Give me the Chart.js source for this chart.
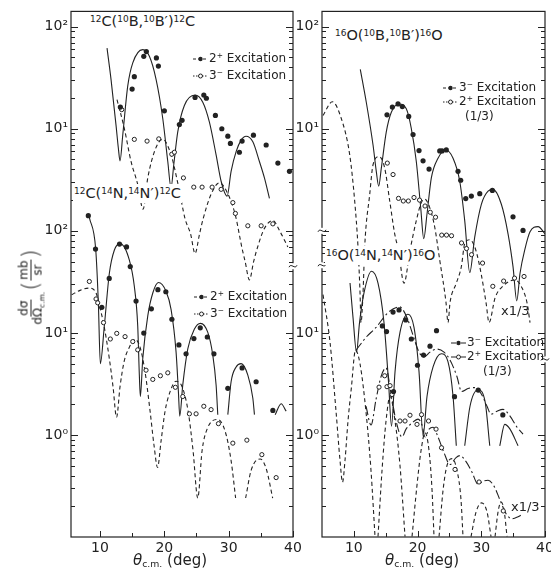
<!DOCTYPE html>
<html lang="en">
<head>
<meta charset="UTF-8">
<title>Inelastic excitation cross sections</title>
<script src="https://cdn.jsdelivr.net/npm/chart.js"></script>
<style>
  html, body { margin: 0; padding: 0; background: #fff; }
  body { width: 551px; height: 575px; position: relative; overflow: hidden;
         font-family: "DejaVu Sans", sans-serif; color: #222; }
  canvas { position: absolute; top: 0; }
  #leftChart { left: 0; }
  #rightChart { left: 290px; }
  .t { position: absolute; white-space: nowrap; z-index: 2; }
  .t sup { font-size: 0.62em; vertical-align: 0.5em; line-height: 0; }
  .rx { font-size: 14.5px; line-height: 19px; background: #fff; padding: 0 1px; }
  .leg { font-size: 12px; line-height: 14px; }
  .leg svg { vertical-align: -1px; margin-right: 1px; }
  .small { font-size: 13px; line-height: 14px; }
  .xt { font-size: 15px; line-height: 18px; transform: translateX(-50%); }
  .xt sub { font-size: 0.62em; vertical-align: -0.25em; line-height: 0; }
  #ytitle { left: 31px; top: 287px; transform: translate(-50%, -50%) rotate(-90deg);
            font-size: 12px; display: flex; align-items: center; gap: 1px; }
  .frac { display: inline-flex; flex-direction: column; align-items: center; line-height: 13px; }
  .frac span:first-child { border-bottom: 1px solid #222; padding: 0 1px; }
  .frac sub { font-size: 0.62em; line-height: 0; }
  .par { font-size: 23px; line-height: 23px; font-weight: 200; }
</style>
</head>
<body>

<canvas id="leftChart" width="320" height="575"></canvas>
<canvas id="rightChart" width="271" height="575"></canvas>

<!-- reaction labels -->
<div class="t rx" style="left:89px;top:12px"><sup>12</sup>C(<sup>10</sup>B,<sup>10</sup>B′)<sup>12</sup>C</div>
<div class="t rx" style="left:73px;top:184px"><sup>12</sup>C(<sup>14</sup>N,<sup>14</sup>N′)<sup>12</sup>C</div>
<div class="t rx" style="left:334px;top:26px"><sup>16</sup>O(<sup>10</sup>B,<sup>10</sup>B′)<sup>16</sup>O</div>
<div class="t rx" style="left:325px;top:246px"><sup>16</sup>O(<sup>14</sup>N,<sup>14</sup>N′)<sup>16</sup>O</div>

<!-- legends -->
<div class="t leg" style="left:193px;top:51px"><svg width="15" height="8"><line x1="0" y1="4" x2="15" y2="4" stroke="#222" stroke-dasharray="3 2"/><circle cx="7.5" cy="4" r="2.2" fill="#222"/></svg>2<sup>+</sup> Excitation</div>
<div class="t leg" style="left:193px;top:68px"><svg width="15" height="8"><line x1="0" y1="4" x2="15" y2="4" stroke="#222" stroke-dasharray="1.5 1.5"/><circle cx="7.5" cy="4" r="2" fill="#fff" stroke="#222"/></svg>3<sup>−</sup> Excitation</div>

<div class="t leg" style="left:194px;top:289px"><svg width="15" height="8"><line x1="0" y1="4" x2="15" y2="4" stroke="#222" stroke-dasharray="3 2"/><circle cx="7.5" cy="4" r="2.2" fill="#222"/></svg>2<sup>+</sup> Excitation</div>
<div class="t leg" style="left:194px;top:306px"><svg width="15" height="8"><line x1="0" y1="4" x2="15" y2="4" stroke="#222" stroke-dasharray="1.5 1.5"/><circle cx="7.5" cy="4" r="2" fill="#fff" stroke="#222"/></svg>3<sup>−</sup> Excitation</div>

<div class="t leg" style="left:443px;top:80px"><svg width="15" height="8"><line x1="0" y1="4" x2="15" y2="4" stroke="#222" stroke-dasharray="3 2"/><circle cx="7.5" cy="4" r="2.2" fill="#222"/></svg>3<sup>−</sup> Excitation</div>
<div class="t leg" style="left:443px;top:94px"><svg width="15" height="8"><line x1="0" y1="4" x2="15" y2="4" stroke="#222" stroke-dasharray="1.5 1.5"/><circle cx="7.5" cy="4" r="2" fill="#fff" stroke="#222"/></svg>2<sup>+</sup> Excitation</div>
<div class="t leg" style="left:465px;top:109px">(1/3)</div>
<div class="t small" style="left:501px;top:304px">x1/3</div>

<div class="t leg" style="left:451px;top:335px"><svg width="15" height="8"><line x1="0" y1="4" x2="15" y2="4" stroke="#222" stroke-dasharray="5 2 1 2"/><circle cx="7.5" cy="4" r="2.2" fill="#222"/></svg>3<sup>−</sup> Excitation</div>
<div class="t leg" style="left:451px;top:349px"><svg width="15" height="8"><line x1="0" y1="4" x2="15" y2="4" stroke="#222" stroke-dasharray="5 2 1 2"/><circle cx="7.5" cy="4" r="2" fill="#fff" stroke="#222"/></svg>2<sup>+</sup> Excitation</div>
<div class="t leg" style="left:483px;top:364px">(1/3)</div>
<div class="t small" style="left:511px;top:500px">x1/3</div>

<!-- axis titles -->
<div class="t xt" style="left:170px;top:551px"><i>θ</i><sub>c.m.</sub> (deg)</div>
<div class="t xt" style="left:422px;top:551px"><i>θ</i><sub>c.m.</sub> (deg)</div>
<div class="t" id="ytitle">
  <span class="frac"><span>dσ</span><span>dΩ<sub>c.m.</sub></span></span>
  <span class="par">(</span><span class="frac"><span>mb</span><span>sr</span></span><span class="par">)</span>
</div>

<script>
// ---- data: [theta c.m. (deg), dσ/dΩ (mb/sr)] ----
// 12C(10B,10B')12C  (upper left, drawn two decades up)
const c12B10_2plus = [[13.17,16.3],[15.0,24.5],[15.34,32.4],[16.81,51.3],[17.21,57.0],[18.77,49.4],[19.08,41.1],[20.01,15.0],[22.34,11.0],[22.76,12.1],[24.78,20.3],[26.14,21.4],[26.54,19.9],[27.94,13.5],[28.94,10.0],[29.87,8.47],[30.27,7.19],[31.67,5.89],[32.09,7.57],[33.85,8.65],[35.83,6.93],[37.65,4.61],[39.45,3.83]];
const c12B10_3minus = [[13.38,15.4],[15.34,7.87],[17.32,7.57],[19.14,7.96],[21.16,5.63],[21.57,5.89],[22.97,3.30],[24.58,2.68],[25.87,2.68],[27.43,2.68],[28.83,2.55],[30.65,1.89],[31.05,1.48],[32.98,1.12],[35.05,1.12],[36.87,1.17]];
const c12B10_2plusFit = [[11.1,61.7],[11.72,30.5],[12.5,10.8],[12.86,6.44],[13.12,4.85],[13.54,8.65],[14.32,26.3],[15.1,44.2],[16.65,59.6],[17.68,51.3],[18.72,30.5],[19.76,12.6],[20.54,4.78],[21.05,2.64],[21.47,4.44],[22.09,9.31],[23.12,16.9],[24.78,21.4],[25.98,18.2],[27.01,11.6],[28.05,5.55],[28.83,3.06],[29.76,2.19],[30.38,3.83],[31.16,5.97],[31.94,7.74],[32.7,8.46],[33.76,7.45],[34.78,4.78],[35.56,3.30],[36.34,2.08]];
const c12B10_3minusFit = [[12.65,19.3],[13.79,10.05],[14.83,4.78],[15.87,2.85],[16.7,1.63],[17.43,3.30],[18.56,6.20],[19.76,7.87],[21.05,5.55],[22.14,2.85],[23.23,1.31],[24.08,0.935],[24.78,0.60],[25.48,0.935],[26.03,1.31],[27.27,2.28],[28.56,2.96],[29.76,2.38],[31.0,1.46],[32.09,0.67],[32.56,0.50],[33.23,0.331],[33.88,0.50],[34.43,0.67],[35.52,1.045],[36.87,1.26],[38.0,0.978],[39.2,0.696]];

// 12C(14N,14N')12C  (lower left)
const c12N14_2plus = [[8.19,140.6],[9.31,66.3],[10.29,17.8],[11.44,34.2],[13.04,74.1],[14.13,69.6],[14.71,44.6],[15.61,20.5],[16.81,9.96],[17.99,17.2],[19.0,26.5],[20.24,25.3],[21.18,13.6],[22.27,7.62],[23.38,6.23],[24.6,8.79],[25.59,11.2],[26.68,9.11],[27.71,6.24],[29.87,2.86],[32.09,4.54],[34.27,3.32],[36.87,1.74]];
const c12N14_3minus = [[8.35,31.9],[9.39,21.5],[9.65,19.7],[10.55,12.6],[11.61,8.71],[12.61,9.89],[13.9,9.19],[15.1,8.22],[15.87,6.82],[17.16,4.31],[18.21,3.50],[19.39,3.80],[20.54,4.06],[21.72,2.93],[22.87,2.38],[23.9,1.61],[24.94,1.61],[26.14,1.91],[27.27,1.77],[28.41,1.29],[30.65,0.831],[32.83,0.889],[35.16,0.641],[37.38,0.382]];
const c12N14_2plusFit = [[8.35,135.6],[9.34,65.9],[9.75,19.7],[10.06,5.0],[10.68,11.7],[11.46,38.4],[12.23,64.5],[13.12,74.9],[14.57,51.6],[15.34,28.6],[15.87,11.7],[16.12,3.86],[16.28,2.38],[16.65,5.58],[17.43,14.7],[18.21,24.6],[19.08,31.2],[20.27,25.6],[21.05,17.0],[21.83,6.48],[22.19,2.66],[22.4,1.53],[22.87,3.09],[23.65,6.97],[24.68,10.9],[25.61,12.4],[26.76,10.1],[27.54,6.02],[28.05,3.09],[28.31,1.58],[28.6,null],[29.87,1.58],[30.38,3.32],[31.16,4.64],[31.94,5.0],[32.98,3.86],[33.76,2.29],[34.01,1.58],[35.0,null],[37.23,1.58],[38.16,2.02],[38.94,1.71]];
const c12N14_3minusFit = [[5.61,23.7],[6.9,26.1],[8.35,27.5],[9.39,24.6],[10.01,17.6],[10.68,11.3],[11.46,5.58],[12.03,2.97],[12.58,1.49],[13.12,2.97],[13.74,5.19],[14.57,7.24],[15.45,8.65],[16.23,7.24],[17.01,4.15],[17.79,1.71],[18.41,0.783],[18.95,0.480],[19.5,0.875],[20.12,1.71],[20.9,2.66],[21.83,3.36],[22.76,2.97],[23.7,1.71],[24.47,0.70],[25.2,0.241],[25.87,0.70],[26.65,1.14],[28.28,1.42],[29.45,1.09],[30.38,0.561],[31.08,0.241],[31.8,null],[32.64,0.241],[33.49,0.449],[34.89,0.582],[35.83,0.469],[36.84,0.241]];

// 16O(10B,10B')16O  (upper right, drawn two decades up; 2+ already x 1/3)
const o16B10_3minus = [[15.2,13.7],[16.04,16.3],[16.93,17.5],[17.61,16.5],[18.61,13.2],[19.29,8.79],[20.23,6.11],[20.86,4.85],[21.8,4.03],[23.48,6.07],[23.84,6.07],[24.51,6.20],[26.35,3.83],[26.77,3.13],[27.56,2.07],[28.44,2.19],[29.76,2.31],[31.74,2.49],[34.98,1.37],[36.55,1.01]];
const o16B10_2plus = [[15.25,4.61],[16.15,3.56],[17.01,2.08],[17.76,1.96],[18.55,1.96],[19.44,2.12],[20.31,2.0],[21.17,1.75],[21.99,1.52],[22.82,1.36],[23.79,0.908],[24.54,0.908],[25.33,0.895],[26.9,0.761],[27.68,0.670],[28.47,0.584],[30.2,0.483],[31.81,0.286],[33.51,0.322],[35.22,0.344],[36.71,0.357]];
const o16B10_3minusFit = [[11.01,38.2],[11.95,18.2],[13.01,6.93],[13.52,3.83],[13.9,2.74],[14.31,4.12],[15.09,9.31],[15.88,14.5],[17.09,17.5],[18.23,15.7],[19.02,10.05],[19.8,4.78],[20.49,1.69],[20.97,0.837],[21.48,1.46],[22.16,3.30],[23.21,5.15],[24.42,6.20],[25.57,5.15],[26.62,3.06],[27.4,1.26],[28.19,0.390],[28.97,0.869],[30.01,1.82],[31.06,2.45],[31.84,2.55],[33.15,1.82],[34.2,0.935],[34.98,0.446],[35.57,0.206],[36.08,0.384],[36.87,0.670],[37.65,0.978],[38.91,1.10],[40.0,0.935]];
const o16B10_2plusFit = [[5.16,13.5],[6.62,18.4],[8.03,12.6],[9.35,5.55],[10.13,1.96],[10.65,0.696],[10.97,0.246],[11.12,0.126],[11.44,0.246],[11.7,0.696],[12.49,2.28],[13.01,4.44],[13.95,5.34],[14.84,4.12],[15.63,1.96],[16.41,0.935],[17.01,0.641],[17.87,0.307],[18.81,0.641],[19.8,1.26],[20.59,1.89],[21.12,2.04],[21.91,1.69],[22.69,1.09],[23.48,0.516],[24.47,0.197],[24.78,0.126],[25.09,0.197],[26.08,0.307],[26.87,0.446],[27.4,0.749],[28.19,0.818],[28.97,0.696],[29.76,0.446],[30.75,0.197],[31.22,0.126],[32.16,0.220],[33.41,0.288],[35.3,0.331],[36.4,0.275],[37.18,0.197],[37.65,0.126]];

// 16O(14N,14N')16O  (lower right; 2+ x 1/3)
const o16N14_3minus = [[14.47,11.7],[15.13,10.3],[16.15,16.0],[16.22,2.66],[17.09,16.8],[18.14,13.4],[19.02,8.71],[19.99,4.82],[20.93,6.06],[21.95,7.41],[22.97,10.5],[25.8,2.37],[29.52,2.75],[33.38,1.57]];
const o16N14_2plus = [[13.95,2.94],[14.84,3.80],[15.2,2.97],[15.68,3.04],[15.99,2.49],[17.24,1.37],[18.03,1.37],[18.81,1.56],[19.91,1.27],[20.62,1.58],[21.72,1.37],[22.9,1.14],[23.76,0.749],[25.88,0.459],[29.65,0.346],[33.45,0.180]];
const o16N14_3minusFit = [[9.4,30.8],[9.87,14.1],[10.42,6.48],[10.89,12.6],[11.59,24.6],[12.77,40.2],[13.79,30.8],[14.73,12.6],[15.44,3.32],[15.91,1.22],[16.46,4.15],[17.24,10.1],[18.5,15.2],[19.44,11.3],[20.23,4.15],[20.86,0.98],[21.48,2.38],[22.43,4.64],[23.73,6.24],[24.78,5.19],[25.57,2.38],[26.08,0.783],[26.8,null],[27.4,0.783],[28.23,1.91],[29.49,2.77],[30.59,2.13],[31.33,0.783],[32.0,null],[32.9,0.783],[33.68,1.27],[34.51,1.14],[35.77,0.783]];
const o16N14_3minusFitB = [[10.34,6.77],[11.91,9.05],[13.48,11.3],[15.36,15.8],[17.17,18.0],[18.34,14.1],[19.29,9.46],[20.23,6.48],[21.01,5.80],[21.95,6.48],[23.05,6.93],[24.15,6.48],[25.09,5.42],[26.19,3.72],[26.9,2.66],[27.92,2.85],[28.94,2.91],[29.96,2.55],[30.9,1.91],[31.53,1.60],[32.47,1.71],[33.41,1.78],[34.51,1.53],[35.61,1.19],[36.55,1.02]];
const o16N14_2plusFitB = [[11.91,1.91],[12.69,1.25],[13.48,2.23],[14.26,3.72],[15.05,4.54],[15.83,2.55],[16.62,1.37],[17.56,0.956],[18.19,1.14],[19.13,1.31],[20.07,1.43],[20.7,1.25],[21.17,0.956],[21.8,1.14],[22.43,1.19],[23.21,0.956],[24.15,0.670],[25.09,0.513],[26.04,0.600],[26.66,0.627],[27.61,0.548],[28.55,0.430],[29.49,0.329],[30.27,0.352],[31.06,0.360],[32.0,0.315],[32.94,0.230],[33.89,0.169],[34.83,0.151],[35.77,0.158],[36.55,0.169]];
const o16N14_2plusFit = [[5.16,23.7],[6.26,8.10],[7.2,1.71],[7.83,0.561],[8.22,0.344],[8.61,0.561],[9.08,1.37],[9.6,2.86],[10.26,6.77],[10.97,4.96],[11.95,1.58],[12.69,0.449],[13.32,0.101],[13.5,null],[13.79,0.101],[14.42,0.449],[15.05,1.37],[15.68,2.38],[16.46,1.37],[17.24,0.502],[18.03,0.101],[18.5,null],[19.13,0.101],[19.91,0.322],[20.54,0.70],[21.17,1.05],[21.8,0.70],[22.27,0.288],[22.58,0.101],[23.0,null],[23.37,0.101],[24.0,0.288],[24.62,0.502],[25.41,0.586],[26.19,0.449],[26.82,0.230],[27.13,0.101],[27.8,null],[28.39,0.101],[29.18,0.176],[30.04,0.216],[30.9,0.176],[31.53,0.101],[31.8,null],[32.16,0.101],[32.63,0.176],[33.1,0.220],[33.57,0.184],[34.04,0.101]];

// axis ticks
const xTickValues = [10, 15, 20, 25, 30, 35, 40];
const leftDecadeLabels = { 4: '10²', 3: '10¹', 2: '10²', 1: '10¹', 0: '10⁰' };
const rightDecadeLabels = { 4: '10²', 3: '10¹', 1: '10¹', 0: '10⁰' };
const UPPER_SHIFT = 100;   // upper reaction is plotted two decades higher

const INK = '#222';
const FONT = '"DejaVu Sans", sans-serif';

const yTickValues = [];
for (let e = -1; e <= 3; e++) {
  for (let m = 1; m <= 9; m++) yTickValues.push(m * Math.pow(10, e));
}
yTickValues.push(1e4);

function toXY(arr, shift) {
  return arr.map(p => ({ x: p[0], y: p[1] === null ? null : p[1] * shift }));
}

function curve(arr, shift, dash) {
  return {
    data: toXY(arr, shift), showLine: true, borderColor: INK, borderWidth: 1.1,
    borderDash: dash, pointRadius: 0, cubicInterpolationMode: 'monotone',
    spanGaps: false, order: 1
  };
}

function marks(arr, shift, filled) {
  return {
    data: toXY(arr, shift), showLine: false, pointStyle: 'circle',
    pointRadius: filled ? 2.6 : 2.1,
    pointBackgroundColor: filled ? INK : '#fff',
    pointBorderColor: INK, pointBorderWidth: filled ? 0 : 1, order: 0
  };
}

function isDecade(v) {
  const l = Math.log10(v);
  return Math.abs(l - Math.round(l)) < 1e-6;
}

// frame with inward ticks, plus the little axis-break marks
const framePlugin = {
  id: 'frame',
  afterDatasetsDraw(chart, args, opts) {
    const { ctx, chartArea: a, scales: { x, y } } = chart;
    ctx.save();
    ctx.strokeStyle = INK;
    ctx.lineWidth = 1.2;
    ctx.strokeRect(a.left, a.top, a.right - a.left, a.bottom - a.top);
    ctx.lineWidth = 1;
    ctx.beginPath();
    y.ticks.forEach(t => {
      const py = Math.round(y.getPixelForValue(t.value)) + 0.5;
      if (py < a.top || py > a.bottom) return;
      const len = isDecade(t.value) ? 7 : 4;
      ctx.moveTo(a.left, py); ctx.lineTo(a.left + len, py);
      ctx.moveTo(a.right, py); ctx.lineTo(a.right - len, py);
    });
    x.ticks.forEach(t => {
      const px = Math.round(x.getPixelForValue(t.value)) + 0.5;
      const len = t.value % 10 === 0 ? 6 : 4;
      ctx.moveTo(px, a.bottom); ctx.lineTo(px, a.bottom - len);
    });
    ctx.stroke();
    (opts.breaks || []).forEach(b => {
      const px = b.side === 'left' ? a.left : a.right;
      const py = y.getPixelForValue(b.value);
      ctx.fillStyle = '#fff';
      ctx.fillRect(px - 2, py - 3, 4, 6);
      ctx.beginPath();
      ctx.moveTo(px - 4, py + 1);
      ctx.bezierCurveTo(px - 2, py - 4, px + 2, py + 4, px + 4, py - 1);
      ctx.stroke();
    });
    ctx.restore();
  }
};

function buildChart(id, cfg) {
  return new Chart(document.getElementById(id), {
    type: 'scatter',
    data: { datasets: cfg.datasets },
    options: {
      responsive: false,
      animation: false,
      devicePixelRatio: 1,
      layout: { padding: cfg.padding },
      plugins: { legend: { display: false }, tooltip: { enabled: false }, frame: { breaks: cfg.breaks } },
      scales: {
        x: {
          type: 'linear', min: cfg.xMin, max: 40,
          grid: { display: false, drawTicks: false }, border: { display: false },
          afterFit: s => { s.height = 38; },
          afterBuildTicks: s => { s.ticks = xTickValues.map(v => ({ value: v })); },
          ticks: {
            autoSkip: false, maxRotation: 0, padding: 3, color: INK,
            font: { family: FONT, size: 14 },
            callback: v => (v % 10 === 0 ? String(v) : '')
          }
        },
        y: {
          type: 'logarithmic', min: 0.1, max: 14125,
          grid: { display: false, drawTicks: false }, border: { display: false },
          afterFit: s => { s.width = cfg.yWidth; },
          afterBuildTicks: s => { s.ticks = yTickValues.map(v => ({ value: v })); },
          ticks: {
            autoSkip: false, padding: 3, color: INK,
            font: { family: FONT, size: 14 },
            callback: v => (isDecade(v) ? (cfg.labels[Math.round(Math.log10(v))] || '') : '')
          }
        }
      }
    },
    plugins: [framePlugin]
  });
}

buildChart('leftChart', {
  xMin: 5.5, yWidth: 71,
  padding: { top: 4, right: 27, bottom: 0, left: 0 },
  labels: leftDecadeLabels,
  breaks: [{ side: 'right', value: 45 }],
  datasets: [
    curve(c12B10_2plusFit, UPPER_SHIFT, []),
    curve(c12B10_3minusFit, UPPER_SHIFT, [4, 3]),
    marks(c12B10_2plus, UPPER_SHIFT, true),
    marks(c12B10_3minus, UPPER_SHIFT, false),
    curve(c12N14_2plusFit, 1, []),
    curve(c12N14_3minusFit, 1, [4, 3]),
    marks(c12N14_2plus, 1, true),
    marks(c12N14_3minus, 1, false)
  ]
});

buildChart('rightChart', {
  xMin: 5, yWidth: 32,
  padding: { top: 4, right: 16, bottom: 0, left: 0 },
  labels: rightDecadeLabels,
  breaks: [{ side: 'left', value: 100 }, { side: 'left', value: 46 }, { side: 'right', value: 5.5 }],
  datasets: [
    curve(o16B10_3minusFit, UPPER_SHIFT, []),
    curve(o16B10_2plusFit, UPPER_SHIFT, [4, 3]),
    marks(o16B10_3minus, UPPER_SHIFT, true),
    marks(o16B10_2plus, UPPER_SHIFT, false),
    curve(o16N14_3minusFit, 1, []),
    curve(o16N14_3minusFitB, 1, [9, 3, 2, 3]),
    curve(o16N14_2plusFitB, 1, [9, 3, 2, 3]),
    curve(o16N14_2plusFit, 1, [4, 3]),
    marks(o16N14_3minus, 1, true),
    marks(o16N14_2plus, 1, false)
  ]
});
</script>
</body>
</html>
